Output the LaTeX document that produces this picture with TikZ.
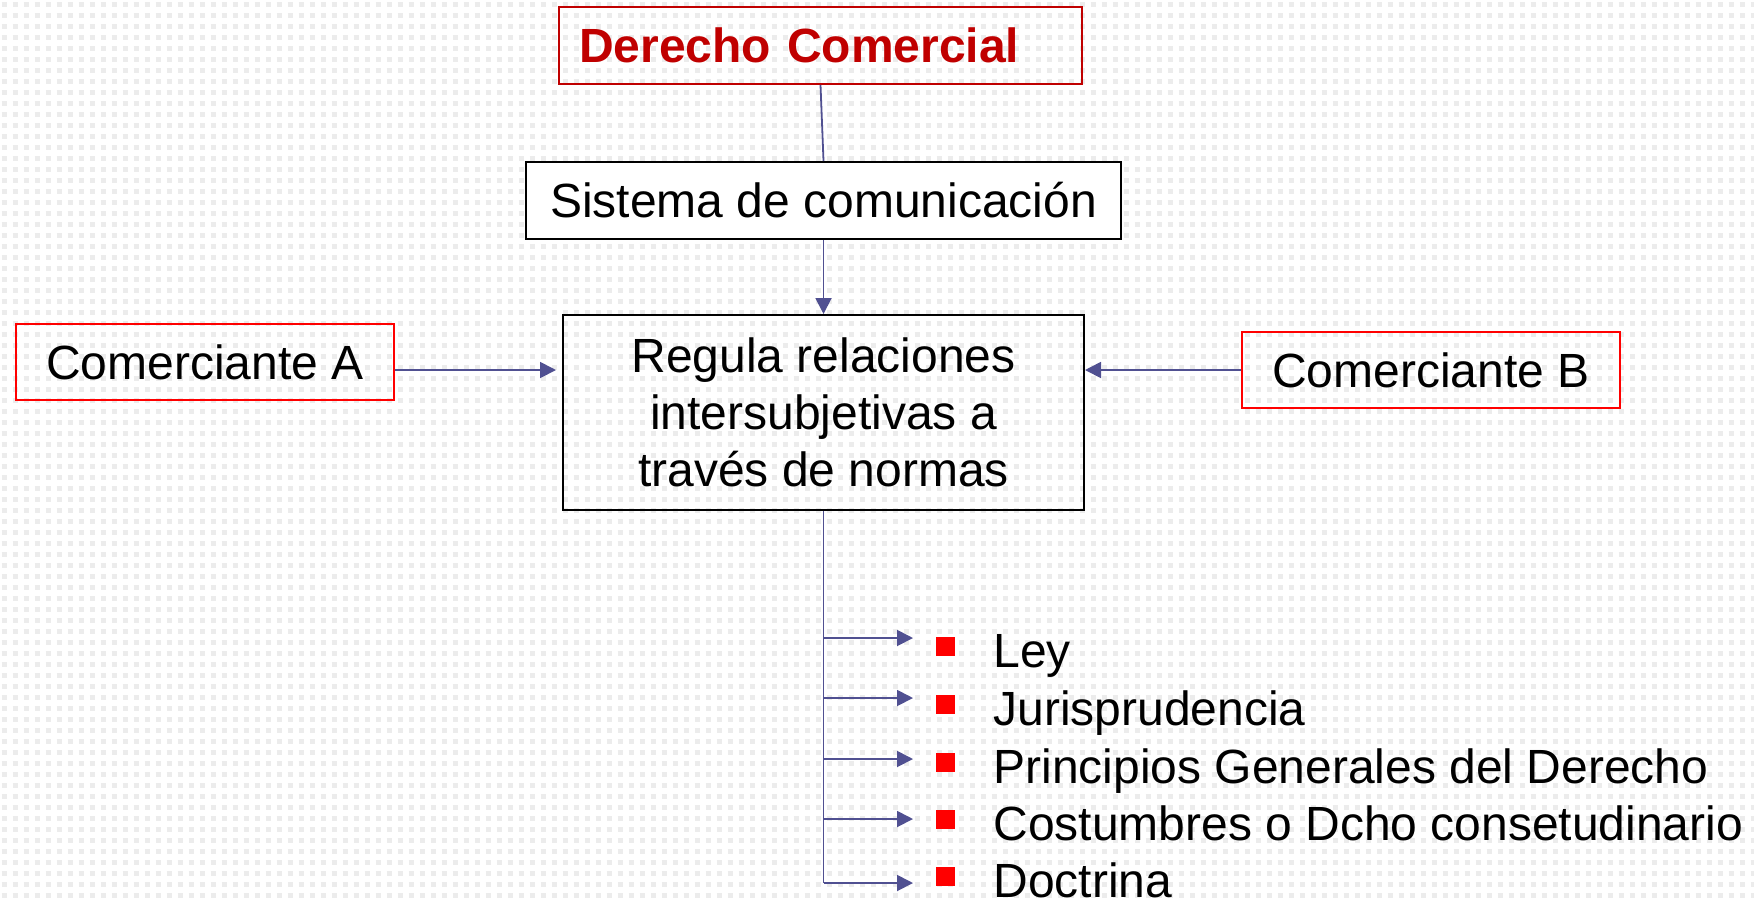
\documentclass[tikz,border=0pt]{standalone}
\usepackage{fontspec}
\setmainfont{Liberation Sans}
\usetikzlibrary{arrows.meta}
\definecolor{darkred}{RGB}{192,0,0}
\definecolor{linkblue}{RGB}{80,80,145}
\definecolor{dotgray}{RGB}{236,236,236}

\begin{document}
\begin{tikzpicture}[x=0.5pt, y=-0.5pt,
  every node/.style={font=\fontsize{24pt}{28.5pt}\selectfont, inner sep=0pt},
  box/.style={draw=black, line width=1pt, minimum height=38.5pt},
  redbox/.style={draw=red, line width=0.9pt, minimum height=38pt, minimum width=189pt},
  link/.style={draw=linkblue, line width=0.9pt, -{Triangle[length=8pt,width=8pt]}},
  trunk/.style={draw=linkblue, line width=0.9pt},
  bullet/.style={fill=red, minimum size=9.5pt},
  item/.style={anchor=base west}]
\useasboundingbox (0,0) rectangle (1754,901);

% dotted background
\foreach \y in {4,15,...,900}
  \draw[dotgray, line width=2.5pt, dash pattern=on 2.5pt off 3pt] (1.5,\y) -- (1754,\y);

% boxes
\node[box, draw=darkred, line width=0.9pt, minimum width=261.5pt, text width=241.5pt,
      align=left, text=darkred, font=\fontsize{24pt}{28.5pt}\selectfont\bfseries]
      (dc) at (820.5,45.5) {Derecho Comercial};
\node[box, fill=white, minimum width=297.5pt] (sis) at (823.5,200.5) {Sistema de comunicación};
\node[box, minimum width=260.5pt, minimum height=97.5pt, align=center]
      (reg) at (823.5,412.5) {Regula relaciones\\intersubjetivas a\\través de normas};
\node[redbox] (ca) at (205,362) {Comerciante A};
\node[redbox] (cb) at (1431,370) {Comerciante B};

% connectors
\draw[trunk] (dc.south) -- (sis.north);
\draw[link] (sis.south) -- (reg.north);
\draw[link, shorten >=3pt] (ca.east |- cb.west) -- (reg.west |- cb.west);
\draw[link] (cb.west) -- (reg.east |- cb.west);

% sources of the law
\foreach \y [count=\i] in {638,698,759,819,883}
  \coordinate (h\i) at (913,\y);
\draw[trunk] (reg.south) -- (reg.south |- h5);
\foreach \i in {1,...,5}
  \draw[link] (reg.south |- h\i) -- (h\i);

\foreach \y/\txt [count=\i] in {646/{Ley}, 704/{Jurisprudencia},
    762/{Principios Generales del Derecho}, 819/{Costumbres o Dcho consetudinario},
    876/{Doctrina}} {
  \node[bullet] (b\i) at (945.5,\y) {};
  \node[item] (it\i) at (993,\y+21) {\txt};
}
\end{tikzpicture}
\end{document}
